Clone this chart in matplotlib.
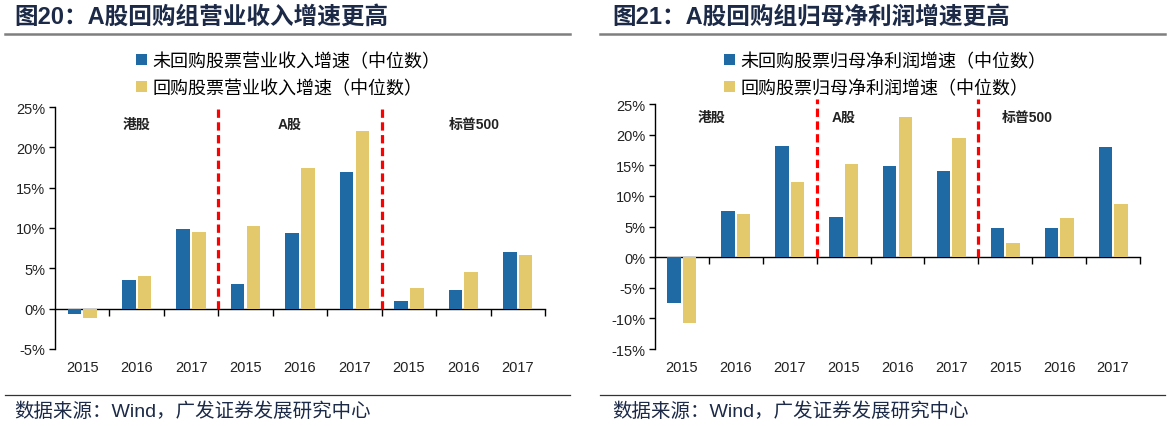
import matplotlib
matplotlib.use("Agg")
import matplotlib.pyplot as plt
from matplotlib.lines import Line2D
from matplotlib.ticker import FuncFormatter, FixedLocator
import numpy as np

plt.rcParams['font.family'] = ['Liberation Sans', 'Noto Sans CJK SC', 'DejaVu Sans']
plt.rcParams['axes.unicode_minus'] = False

years = ["2015", "2016", "2017", "2015", "2016", "2017", "2015", "2016", "2017"]
groups = ["港股", "A股", "标普500"]

# Figure 20: revenue growth (median, %)
rev_no_buyback = [-0.6, 3.5, 9.9, 3.0, 9.4, 17.0, 0.95, 2.3, 7.0]
rev_buyback = [-1.1, 4.0, 9.5, 10.2, 17.4, 22.0, 2.6, 4.5, 6.6]
# Figure 21: net profit growth (median, %)
np_no_buyback = [-7.5, 7.5, 18.2, 6.5, 14.9, 14.1, 4.8, 4.7, 18.0]
np_buyback = [-10.8, 7.1, 12.2, 15.2, 22.9, 19.4, 2.3, 6.4, 8.7]

title_left = "图20：A股回购组营业收入增速更高"
title_right = "图21：A股回购组归母净利润增速更高"
leg_left = ["未回购股票营业收入增速（中位数）", "回购股票营业收入增速（中位数）"]
leg_right = ["未回购股票归母净利润增速（中位数）", "回购股票归母净利润增速（中位数）"]
source = "数据来源：Wind，广发证券发展研究中心"

BLUE = "#1f6aa5"
YELLOW = "#e3c86c"
RED = "#ff0000"
TITLE_C = "#1c2a48"

fig = plt.figure(figsize=(11.7, 4.27), dpi=100)


def panel(rect, blue, yellow, ylim, yticks, leg, leg_anchor, label_pos, vtop):
    ax = fig.add_axes(rect)
    x = np.arange(len(years))
    w = 0.25
    b1 = ax.bar(x - 0.145, blue, w, color=BLUE, label=leg[0], zorder=3)
    b2 = ax.bar(x + 0.145, yellow, w, color=YELLOW, label=leg[1], zorder=3)
    ax.set_xlim(-0.5, len(years) - 0.5)
    ax.set_ylim(*ylim)
    ax.yaxis.set_major_locator(FixedLocator(yticks))
    ax.yaxis.set_major_formatter(FuncFormatter(lambda v, p: f"{v:.0f}%"))
    for s in ["top", "right"]:
        ax.spines[s].set_visible(False)
    ax.spines["bottom"].set_position(("data", 0))
    ax.spines["left"].set_linewidth(1.0)
    ax.spines["bottom"].set_linewidth(1.0)
    ax.set_xticks(np.arange(0.5, len(years), 1.0))
    ax.set_xticklabels([])
    ax.tick_params(axis="x", direction="out", length=5, width=1.0)
    ax.tick_params(axis="y", direction="out", length=4, width=1.0,
                   labelsize=10.5, pad=3, labelcolor="#222222")
    for i, lab in enumerate(years):
        ax.text(i, -0.075, lab, transform=ax.get_xaxis_transform(),
                ha="center", va="center", fontsize=10.5, color="#222222",
                family=["Liberation Sans"])
    for xv in (2.5, 5.5):
        ax.plot([xv, xv], [0, vtop], color=RED, lw=2.3,
                linestyle=(0, (2.6, 1.4)), zorder=4, clip_on=False)
    for (gx, gy), g in zip(label_pos, groups):
        ax.text(gx, gy, g, ha="center", va="center", fontsize=10,
                fontweight="bold", color="#222222",
                family=["Liberation Sans", "Noto Sans CJK SC"])
    fig.legend(handles=[b1, b2], labels=leg, loc="upper left",
               bbox_to_anchor=leg_anchor, frameon=False,
               handlelength=0.6, handleheight=0.6, handletextpad=0.3,
               labelspacing=0.5, borderpad=0, borderaxespad=0,
               prop={"family": ["Noto Sans CJK SC"], "size": 13})
    return ax


panel([55 / 1170, 77 / 427, 490 / 1170, 242 / 427], rev_no_buyback, rev_buyback,
      (-5, 25), [-5, 0, 5, 10, 15, 20, 25], leg_left, (136 / 1170, 1 - 53 / 427),
      [(1.0, 22.9), (3.8, 22.9), (7.2, 22.9)], 25)
panel([655 / 1170, 77 / 427, 485 / 1170, 245 / 427], np_no_buyback, np_buyback,
      (-15, 25), [-15, -10, -5, 0, 5, 10, 15, 20, 25], leg_right, (724 / 1170, 1 - 53 / 427),
      [(0.55, 22.9), (3.0, 22.9), (6.4, 22.9)], 25.8)

# titles, rules and sources
for x0, x1, tx, title in ((5, 570, 14, title_left), (600, 1165, 612, title_right)):
    fig.text(tx / 1170, 1 - 17 / 427, title, fontsize=17, fontweight="bold",
             color=TITLE_C, va="center", ha="left",
             family=["Liberation Sans", "Noto Sans CJK SC"])
    fig.add_artist(Line2D([x0 / 1170, x1 / 1170], [1 - 35 / 427] * 2,
                          color="#7f7f7f", lw=1.8))
    fig.add_artist(Line2D([x0 / 1170, x1 / 1170], [1 - 396 / 427] * 2,
                          color="#333333", lw=0.9))
    fig.text(tx / 1170, 1 - 412 / 427, source, fontsize=14, color="#1c2a48",
             va="center", ha="left",
             family=["Liberation Sans", "Noto Sans CJK SC"])

fig.savefig("out.png", dpi=100)
